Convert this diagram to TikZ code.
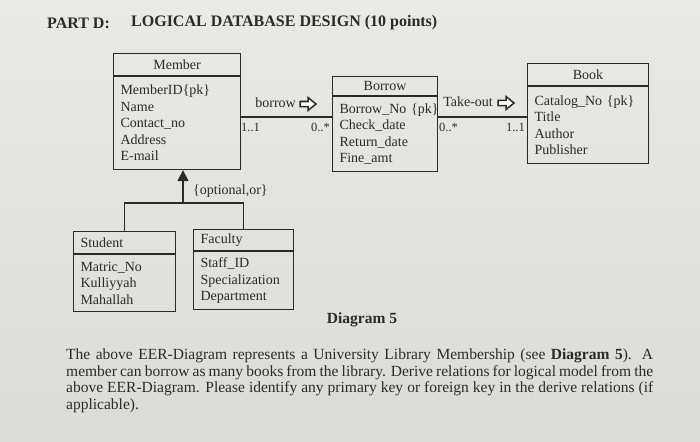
\documentclass[tikz,border=0pt]{standalone}
\usepackage{fontspec}
\setmainfont{Liberation Serif}
\usetikzlibrary{arrows.meta}
\definecolor{paperA}{RGB}{233,233,230}
\definecolor{paperB}{RGB}{219,219,216}
\definecolor{ink}{RGB}{42,42,42}
\tikzset{
  hdr/.style={draw=ink, line width=1.1pt, anchor=north west, inner sep=0pt, text=ink,
    font=\fontsize{14}{16}\selectfont},
  hdrleft/.style={hdr, align=left, inner xsep=7pt},
  body/.style={draw=ink, line width=1.1pt, anchor=north west, inner xsep=7pt, inner ysep=0pt,
    align=left, text=ink, font=\fontsize{14}{16.5}\selectfont},
  conn/.style={draw=ink, line width=1.8pt},
  genline/.style={draw=ink, line width=1.4pt},
  lbl/.style={text=ink, inner sep=0pt, font=\fontsize{14}{16}\selectfont},
  card/.style={text=ink, inner sep=0pt, font=\fontsize{12.5}{14}\selectfont},
  hollowarr/.pic={\draw[draw=ink, line width=1.5pt, fill=white, line join=miter]
    (0,-2.5) -- (8,-2.5) -- (8,-6.5) -- (16,0) -- (8,6.5) -- (8,2.5) -- (0,2.5) -- cycle;},
}
\begin{document}
\begin{tikzpicture}[x=1pt,y=-1pt]
\useasboundingbox (0,0) rectangle (700,441);
\shade[top color=paperA, bottom color=paperB] (0,0) rectangle (700,441);

% title
\node[anchor=west, text=ink, inner sep=0pt, font=\bfseries\fontsize{16}{18}\selectfont] (partd) at (47,23) {PART D:};
\node[anchor=west, text=ink, inner sep=0pt, font=\bfseries\fontsize{16}{18}\selectfont] (title) at (131,23) {LOGICAL DATABASE DESIGN (10 points)};

% Member
\node[hdr, minimum width=127, minimum height=22] (member) at (113,53) {Member};
\node[body, text width=113, minimum height=93] (memberb) at (member.south west)
  {MemberID\{pk\}\\Name\\Contact\_no\\Address\\E-mail};

% Borrow
\node[hdr, minimum width=105, minimum height=19] (borrow) at (332,76) {Borrow};
\node[body, text width=91, inner xsep=7pt, minimum height=75] (borrowb) at (borrow.south west)
  {Borrow\_No~\{pk\}\\Check\_date\\Return\_date\\Fine\_amt};

% Book
\node[hdr, minimum width=121, minimum height=22] (book) at (527,63) {Book};
\node[body, text width=107, minimum height=77] (bookb) at (book.south west)
  {Catalog\_No~\{pk\}\\Title\\Author\\Publisher};

% Student
\node[hdrleft, text width=88, minimum height=22] (student) at (73,231) {Student};
\node[body, text width=88, minimum height=57] (studentb) at (student.south west)
  {Matric\_No\\Kulliyyah\\Mahallah};

% Faculty
\node[hdrleft, text width=86, minimum height=21] (faculty) at (193,229) {Faculty};
\node[body, text width=86, minimum height=58] (facultyb) at (faculty.south west)
  {Staff\_ID\\Specialization\\Department};

% associations
\coordinate (lvl) at (0,117);
\draw[conn] (memberb.east |- lvl) -- (borrowb.west |- lvl);
\draw[conn] (borrowb.east |- lvl) -- (bookb.west |- lvl);

\node[lbl, anchor=east] (borrowlbl) at (296,103) {borrow};
\pic at ([xshift=4pt,yshift=-1pt]borrowlbl.east) {hollowarr};
\node[card, anchor=west] (c11a) at (241,127) {1..1};
\node[card, anchor=east] (c0a) at (330,127) {0..*};
\node[lbl, anchor=east] (takeoutlbl) at (493,102) {Take-out};
\pic at ([xshift=5pt,yshift=-1pt]takeoutlbl.east) {hollowarr};
\node[card, anchor=west] (c0b) at (439,127) {0..*};
\node[card, anchor=east] (c11b) at (525,127) {1..1};

% generalization
\coordinate (split) at (183,203);
\draw[genline, -{Triangle[width=11pt,length=11pt]}] (split) -- (split |- memberb.south);
\draw[genline] (student.north) |- (split) -| (faculty.north);
\node[lbl, anchor=west] (optor) at (193,191) {\{optional,or\}};

% caption
\node[text=ink, inner sep=0pt, font=\bfseries\fontsize{15.5}{17}\selectfont] (cap) at (362,320) {Diagram 5};

\node[anchor=north west, text=ink, inner sep=0pt, text width=587, align=justify,
  font=\fontsize{15.5}{16.5}\selectfont] (para) at (66,349)
  {The above EER-Diagram represents a University Library Membership (see \textbf{Diagram 5}). A\linebreak
   member can borrow as many books from the library. Derive relations for logical model from the\linebreak
   above EER-Diagram. Please identify any primary key or foreign key in the derive relations (if\linebreak
   applicable).};
\end{tikzpicture}
\end{document}
